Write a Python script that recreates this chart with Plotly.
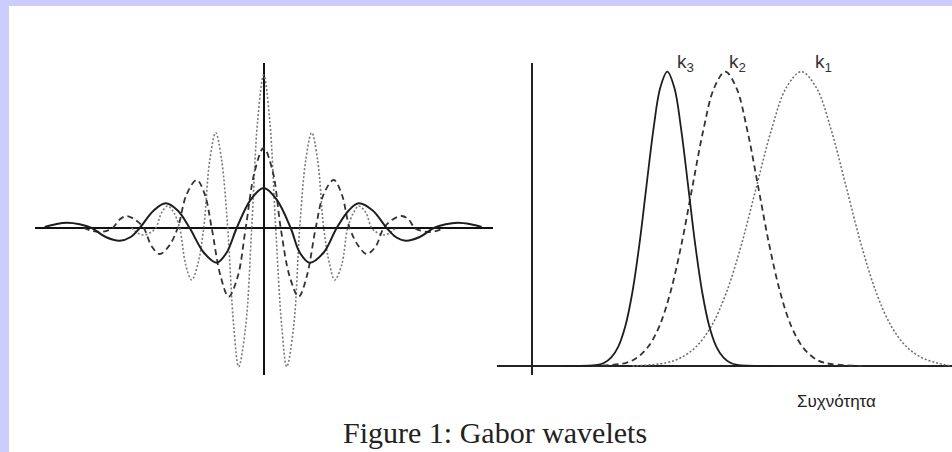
import plotly.graph_objects as go

# ---------------- Left panel: Gabor wavelets (x = offset, y = amplitude) ----------------
wave_low_x = [-219, -208, -197, -184, -172, -158, -144, -133, -124, -110, -98, -86, -74, -60, -47, -37, -27, -13, 0,
              13, 27, 36, 46, 60, 73, 85, 95, 109, 123, 132, 142, 156, 170, 182, 194, 207, 218]
wave_low_y = [1, 3.8, 5.3, 3.8, 0, -9, -12.7, -9, 0, 17.5, 24.7, 17.5, 0, -24.5, -34.7, -24.5, 0, 28.4, 40,
              28.4, 0, -24.5, -34.7, -24.5, 0, 17.5, 24.7, 17.5, 0, -9, -12.7, -9, 0, 3.8, 5.3, 3.8, 1]

wave_mid_x = [-180, -172, -164, -157, -151, -144, -137, -129, -120, -112, -104, -95, -86, -77, -67, -59, -52, -43, -35, -26, -18, -9, 0,
              9, 17, 26, 35, 43, 52, 60, 70, 78, 86, 95, 103, 112, 120, 129, 138, 145, 151, 158, 166, 173, 181]
wave_mid_y = [0, -2.8, -4, -2.8, 0, 8.5, 12, 8.5, 0, -18.4, -26, -18.4, 0, 33.9, 48, 33.9, 0, -48.6, -68.7, -48.6, 0, 56.6, 80,
              56.6, 0, -48.6, -68.7, -48.6, 0, 33.9, 48, 33.9, 0, -18.4, -26, -18.4, 0, 8.5, 12, 8.5, 0, -2.8, -4, -2.8, 0]

wave_high_x = [-132, -126, -120, -114, -108, -102, -96, -90, -84, -78, -72, -66, -60, -54, -48, -42, -36, -30, -25, -18, -12, -6, 0,
               6, 12, 18, 23, 30, 36, 42, 48, 54, 60, 66, 71, 78, 84, 90, 95, 102, 108, 114, 120, 126, 132]
wave_high_y = [0, -5, -7, -5, 0, 15.6, 22, 15.6, 0, -36.8, -52, -36.8, 0, 67.4, 95.3, 67.4, 0, -98, -138.7, -98, 0, 108, 153,
               108, 0, -98, -138.7, -98, 0, 67.4, 95.3, 67.4, 0, -36.8, -52, -36.8, 0, 15.6, 22, 15.6, 0, -5, -7, -5, 0]

# ---------------- Right panel: frequency responses ----------------
k3_x = [3.0, 6.5, 7.2, 7.9, 8.6, 9.3, 10.0, 10.7, 11.4, 12.1, 12.8, 13.5, 14.2, 14.9, 15.6, 16.3, 17.0, 17.7, 18.4, 19.1, 19.8, 20.5, 24.0]
k3_y = [0, 0.004, 0.011, 0.029, 0.066, 0.135, 0.249, 0.411, 0.607, 0.801, 0.946, 1.0, 0.946, 0.801, 0.607, 0.411, 0.249, 0.135, 0.066, 0.029, 0.011, 0.004, 0]

k2_x = [6.0, 9.4, 10.5, 11.6, 12.7, 13.8, 14.9, 16.0, 17.1, 18.2, 19.3, 20.4, 21.5, 22.6, 23.7, 24.8, 25.9, 27.0, 28.1, 29.2, 33.0]
k2_y = [0, 0.011, 0.029, 0.066, 0.135, 0.249, 0.411, 0.607, 0.801, 0.946, 1.0, 0.946, 0.801, 0.607, 0.411, 0.249, 0.135, 0.066, 0.029, 0.011, 0]

k1_x = [10.0, 13.4, 14.9, 16.4, 17.9, 19.4, 20.9, 22.4, 23.9, 25.4, 26.9, 28.4, 29.9, 31.4, 32.9, 34.4, 35.9, 37.4, 38.9, 40.4, 41.9]
k1_y = [0, 0.011, 0.029, 0.066, 0.135, 0.249, 0.411, 0.607, 0.801, 0.946, 1.0, 0.946, 0.801, 0.607, 0.411, 0.249, 0.135, 0.066, 0.029, 0.011, 0]

k_labels = ["k<sub>3</sub>", "k<sub>2</sub>", "k<sub>1</sub>"]
k_label_x = [14.3, 19.45, 28.1]
axis_label = "Συχνότητα"
caption = "Figure 1: Gabor wavelets"

W, H = 952, 452

fig = go.Figure()

fig.add_trace(go.Scatter(x=wave_high_x, y=wave_high_y, mode="lines", xaxis="x", yaxis="y",
                         line=dict(color="#7a7a7a", width=1.6, dash="2px,2px", shape="spline", smoothing=1.0)))
fig.add_trace(go.Scatter(x=wave_mid_x, y=wave_mid_y, mode="lines", xaxis="x", yaxis="y",
                         line=dict(color="#333333", width=1.8, dash="6px,4px", shape="spline", smoothing=1.0)))
fig.add_trace(go.Scatter(x=wave_low_x, y=wave_low_y, mode="lines", xaxis="x", yaxis="y",
                         line=dict(color="#1e1e1e", width=2, shape="spline", smoothing=1.0)))

fig.add_trace(go.Scatter(x=k1_x, y=k1_y, mode="lines", xaxis="x2", yaxis="y2",
                         line=dict(color="#6a6a6a", width=1.5, dash="2px,2px", shape="spline", smoothing=1.0)))
fig.add_trace(go.Scatter(x=k2_x, y=k2_y, mode="lines", xaxis="x2", yaxis="y2",
                         line=dict(color="#333333", width=1.8, dash="6px,4px", shape="spline", smoothing=1.0)))
fig.add_trace(go.Scatter(x=k3_x, y=k3_y, mode="lines", xaxis="x2", yaxis="y2",
                         line=dict(color="#1e1e1e", width=1.8, shape="spline", smoothing=1.0)))

hidden = dict(showgrid=False, showticklabels=False, ticks="", showline=False, zeroline=True, fixedrange=True)

fig.update_layout(
    width=W, height=H,
    margin=dict(l=0, r=0, t=0, b=0),
    paper_bgcolor="white", plot_bgcolor="white",
    showlegend=False,
    xaxis=dict(domain=[35 / W, 493 / W], range=[-228.7, 229.3], zerolinecolor="#111111", zerolinewidth=1.6, **hidden),
    yaxis=dict(domain=[1 - 375 / H, 1 - 63 / H], range=[-147, 165], zerolinecolor="#111111", zerolinewidth=1.6, **hidden),
    xaxis2=dict(domain=[496.7 / W, 1.0], range=[-3.56, 41.97], anchor="y2", zerolinecolor="#222222", zerolinewidth=1.6, **hidden),
    yaxis2=dict(domain=[1 - 375 / H, 1 - 62.7 / H], range=[-0.0306, 1.0306], anchor="x2", zerolinecolor="#222222", zerolinewidth=1.8, **hidden),
)

annotations = []
for lab, lx in zip(k_labels, k_label_x):
    annotations.append(dict(text=lab, x=lx, y=1.03, xref="x2", yref="y2", xanchor="left", yanchor="middle",
                            showarrow=False, font=dict(family="Liberation Sans, Arial, sans-serif", size=19, color="#333333")))
annotations.append(dict(text=axis_label, x=836 / W, y=1 - 401 / H, xref="paper", yref="paper",
                        xanchor="center", yanchor="middle", showarrow=False,
                        font=dict(family="Liberation Sans, Arial, sans-serif", size=17, color="#222222")))
annotations.append(dict(text=caption, x=495 / W, y=1 - 432 / H, xref="paper", yref="paper",
                        xanchor="center", yanchor="middle", showarrow=False,
                        font=dict(family="Liberation Serif, Times New Roman, serif", size=30, color="#222222")))
fig.update_layout(annotations=annotations)

fig.update_layout(shapes=[
    dict(type="rect", xref="paper", yref="paper", x0=0, x1=9 / W, y0=0, y1=1, fillcolor="#ccccff", line=dict(width=0), layer="above"),
    dict(type="rect", xref="paper", yref="paper", x0=0, x1=1, y0=1 - 6 / H, y1=1, fillcolor="#ccccff", line=dict(width=0), layer="above"),
])

fig.write_html("out.html", config=dict(displayModeBar=False))
